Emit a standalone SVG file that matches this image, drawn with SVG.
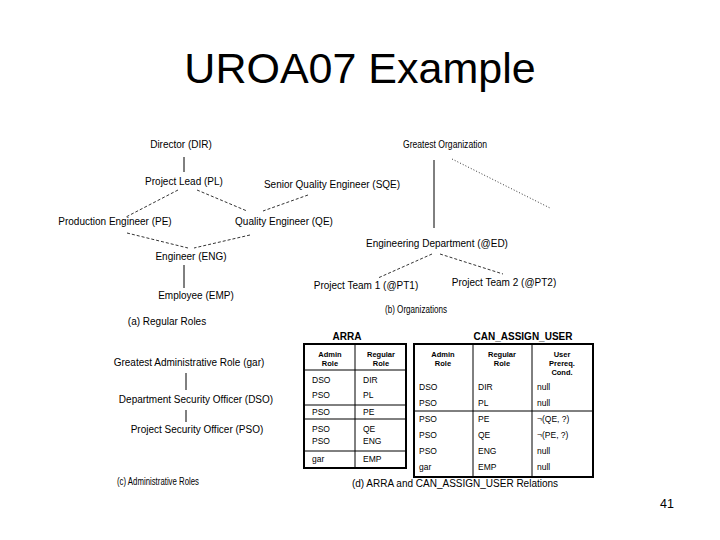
<svg xmlns="http://www.w3.org/2000/svg" width="720" height="540" viewBox="0 0 720 540">
<style>
text{font-family:"Liberation Sans",Arial,sans-serif;fill:#000}
.t{font-size:10px;text-anchor:middle}
.b{font-size:8.5px}
.h{font-size:7.5px;font-weight:bold;text-anchor:middle}
.hd{font-size:10px;font-weight:bold;text-anchor:middle}
.s{stroke:#000;stroke-width:1;fill:none}
.d{stroke:#000;stroke-width:0.8;stroke-dasharray:3 2;fill:none}
.o{stroke:#000;stroke-width:0.8;stroke-dasharray:1 2;fill:none}
.box{stroke:#000;stroke-width:2;fill:#fff}
.ln{stroke:#000;stroke-width:1}
</style>
<rect width="720" height="540" fill="#fff"/>
<text x="360" y="83" style="font-size:43px;text-anchor:middle">UROA07 Example</text>
<text x="667" y="508" style="font-size:12.5px;text-anchor:middle">41</text>

<g id="connectors">
<line class="s" x1="184" y1="157" x2="184" y2="172"/>
<line class="d" x1="178" y1="190" x2="126" y2="217"/>
<line class="d" x1="197" y1="190" x2="247" y2="211"/>
<line class="d" x1="308" y1="195" x2="263" y2="211"/>
<line class="d" x1="127" y1="233" x2="188" y2="248"/>
<line class="d" x1="250" y1="235" x2="194" y2="248"/>
<line class="s" x1="184" y1="265" x2="184" y2="288"/>
<line class="s" x1="434" y1="160" x2="434" y2="228"/>
<line class="o" x1="452" y1="159" x2="550" y2="208"/>
<line class="d" x1="432" y1="254" x2="378" y2="278"/>
<line class="d" x1="440" y1="254" x2="503" y2="274"/>
<line class="s" x1="186" y1="373" x2="186" y2="390"/>
<line class="s" x1="186" y1="410" x2="186" y2="422"/>
</g>

<g id="dir"><text class="t" x="181" y="148">Director (DIR)</text></g>
<g id="pl"><text class="t" x="184" y="185">Project Lead (PL)</text></g>
<g id="sqe"><text class="t" x="332" y="188">Senior Quality Engineer (SQE)</text></g>
<g id="pe"><text class="t" x="115" y="225">Production Engineer (PE)</text></g>
<g id="qe"><text class="t" x="284" y="225">Quality Engineer (QE)</text></g>
<g id="eng"><text class="t" x="191" y="260">Engineer (ENG)</text></g>
<g id="emp"><text class="t" x="196" y="299">Employee (EMP)</text></g>
<g id="cap-a"><text class="t" x="167" y="325">(a) Regular Roles</text></g>

<g id="go"><text class="t" x="445" y="148" textLength="84" lengthAdjust="spacingAndGlyphs">Greatest Organization</text></g>
<g id="ed"><text class="t" x="437" y="247">Engineering Department (@ED)</text></g>
<g id="pt1"><text class="t" x="366" y="289">Project Team 1 (@PT1)</text></g>
<g id="pt2"><text class="t" x="504" y="286">Project Team 2 (@PT2)</text></g>
<g id="cap-b"><text class="t" x="416" y="313" textLength="62" lengthAdjust="spacingAndGlyphs">(b) Organizations</text></g>

<g id="gar"><text class="t" x="189" y="366">Greatest Administrative Role (gar)</text></g>
<g id="dso"><text class="t" x="196" y="403">Department Security Officer (DSO)</text></g>
<g id="pso"><text class="t" x="197" y="433">Project Security Officer (PSO)</text></g>
<g id="cap-c"><text class="t" x="158" y="485" textLength="82" lengthAdjust="spacingAndGlyphs">(c) Administrative Roles</text></g>

<g id="arra">
<text class="hd" x="347" y="340">ARRA</text>
<rect class="box" x="304" y="344" width="102" height="124"/>
<line class="ln" x1="355" y1="344" x2="355" y2="468"/>
<line class="ln" x1="304" y1="370" x2="406" y2="370"/>
<line class="ln" x1="304" y1="405" x2="406" y2="405"/>
<line class="ln" x1="304" y1="419" x2="406" y2="419"/>
<line class="ln" x1="304" y1="451" x2="406" y2="451"/>
<text class="h" x="330" y="357">Admin</text><text class="h" x="330" y="366">Role</text>
<text class="h" x="381" y="357">Regular</text><text class="h" x="381" y="366">Role</text>
<text class="b" x="312" y="383">DSO</text><text class="b" x="363" y="383">DIR</text>
<text class="b" x="312" y="398">PSO</text><text class="b" x="363" y="398">PL</text>
<text class="b" x="312" y="415">PSO</text><text class="b" x="363" y="415">PE</text>
<text class="b" x="312" y="432">PSO</text><text class="b" x="363" y="432">QE</text>
<text class="b" x="312" y="444">PSO</text><text class="b" x="363" y="444">ENG</text>
<text class="b" x="312" y="462">gar</text><text class="b" x="363" y="462">EMP</text>
</g>

<g id="can-assign-user">
<text class="hd" x="523" y="340">CAN_ASSIGN_USER</text>
<rect class="box" x="414" y="344" width="179" height="133"/>
<line class="ln" x1="473" y1="344" x2="473" y2="477"/>
<line class="ln" x1="532" y1="344" x2="532" y2="477"/>
<line class="ln" x1="414" y1="411" x2="593" y2="411"/>
<text class="h" x="443" y="357">Admin</text><text class="h" x="443" y="366">Role</text>
<text class="h" x="502" y="357">Regular</text><text class="h" x="502" y="366">Role</text>
<text class="h" x="562" y="357">User</text><text class="h" x="562" y="366">Prereq.</text><text class="h" x="562" y="375">Cond.</text>
<text class="b" x="419" y="390">DSO</text><text class="b" x="478" y="390">DIR</text><text class="b" x="537" y="390">null</text>
<text class="b" x="419" y="406">PSO</text><text class="b" x="478" y="406">PL</text><text class="b" x="537" y="406">null</text>
<text class="b" x="419" y="422">PSO</text><text class="b" x="478" y="422">PE</text><text class="b" x="537" y="422">¬(QE, ?)</text>
<text class="b" x="419" y="438">PSO</text><text class="b" x="478" y="438">QE</text><text class="b" x="537" y="438">¬(PE, ?)</text>
<text class="b" x="419" y="454">PSO</text><text class="b" x="478" y="454">ENG</text><text class="b" x="537" y="454">null</text>
<text class="b" x="419" y="470">gar</text><text class="b" x="478" y="470">EMP</text><text class="b" x="537" y="470">null</text>
</g>
<g id="cap-d"><text class="t" x="455" y="487">(d) ARRA and CAN_ASSIGN_USER Relations</text></g>
</svg>
